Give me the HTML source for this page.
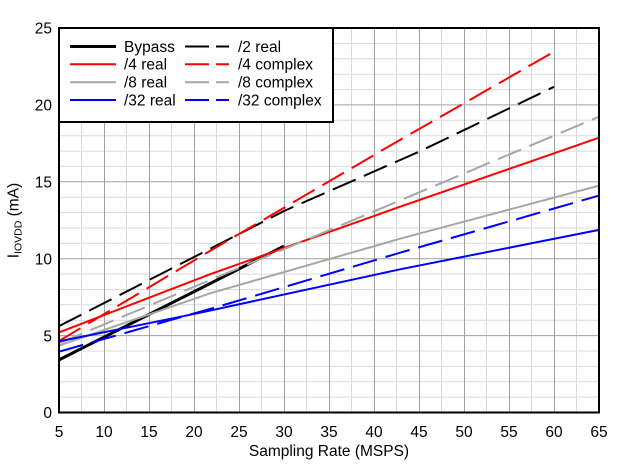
<!DOCTYPE html>
<html>
<head>
<meta charset="utf-8">
<style>
html,body{margin:0;padding:0;background:#fff;}
svg{display:block;}
text{font-family:"Liberation Sans",Arial,sans-serif;fill:#000;}
</style>
</head>
<body>
<svg width="626" height="469" viewBox="0 0 626 469" xmlns="http://www.w3.org/2000/svg">
<rect width="626" height="469" fill="#fff"/>
<!-- minor grid -->
<g stroke="#d9d9d9" stroke-width="1">
<line x1="81.5" y1="28" x2="81.5" y2="412"/>
<line x1="126.5" y1="28" x2="126.5" y2="412"/>
<line x1="171.5" y1="28" x2="171.5" y2="412"/>
<line x1="216.5" y1="28" x2="216.5" y2="412"/>
<line x1="261.5" y1="28" x2="261.5" y2="412"/>
<line x1="306.5" y1="28" x2="306.5" y2="412"/>
<line x1="351.5" y1="28" x2="351.5" y2="412"/>
<line x1="396.5" y1="28" x2="396.5" y2="412"/>
<line x1="441.5" y1="28" x2="441.5" y2="412"/>
<line x1="486.5" y1="28" x2="486.5" y2="412"/>
<line x1="531.5" y1="28" x2="531.5" y2="412"/>
<line x1="576.5" y1="28" x2="576.5" y2="412"/>
<line x1="59" y1="397.1" x2="599" y2="397.1"/>
<line x1="59" y1="381.7" x2="599" y2="381.7"/>
<line x1="59" y1="366.4" x2="599" y2="366.4"/>
<line x1="59" y1="351.0" x2="599" y2="351.0"/>
<line x1="59" y1="320.2" x2="599" y2="320.2"/>
<line x1="59" y1="304.8" x2="599" y2="304.8"/>
<line x1="59" y1="289.5" x2="599" y2="289.5"/>
<line x1="59" y1="274.1" x2="599" y2="274.1"/>
<line x1="59" y1="243.3" x2="599" y2="243.3"/>
<line x1="59" y1="228.0" x2="599" y2="228.0"/>
<line x1="59" y1="212.6" x2="599" y2="212.6"/>
<line x1="59" y1="197.2" x2="599" y2="197.2"/>
<line x1="59" y1="166.4" x2="599" y2="166.4"/>
<line x1="59" y1="151.1" x2="599" y2="151.1"/>
<line x1="59" y1="135.7" x2="599" y2="135.7"/>
<line x1="59" y1="120.3" x2="599" y2="120.3"/>
<line x1="59" y1="89.6" x2="599" y2="89.6"/>
<line x1="59" y1="74.2" x2="599" y2="74.2"/>
<line x1="59" y1="58.8" x2="599" y2="58.8"/>
<line x1="59" y1="43.4" x2="599" y2="43.4"/>
</g>
<!-- major grid -->
<g stroke="#a0a0a0" stroke-width="1">
<line x1="104.5" y1="28" x2="104.5" y2="412"/>
<line x1="149.5" y1="28" x2="149.5" y2="412"/>
<line x1="194.5" y1="28" x2="194.5" y2="412"/>
<line x1="239.5" y1="28" x2="239.5" y2="412"/>
<line x1="284.5" y1="28" x2="284.5" y2="412"/>
<line x1="329.5" y1="28" x2="329.5" y2="412"/>
<line x1="374.5" y1="28" x2="374.5" y2="412"/>
<line x1="419.5" y1="28" x2="419.5" y2="412"/>
<line x1="464.5" y1="28" x2="464.5" y2="412"/>
<line x1="509.5" y1="28" x2="509.5" y2="412"/>
<line x1="554.5" y1="28" x2="554.5" y2="412"/>
<line x1="59" y1="335.6" x2="599" y2="335.6"/>
<line x1="59" y1="258.7" x2="599" y2="258.7"/>
<line x1="59" y1="181.8" x2="599" y2="181.8"/>
<line x1="59" y1="104.9" x2="599" y2="104.9"/>
</g>
<!-- series -->
<g fill="none" stroke-linejoin="round">
<polyline stroke="#000" stroke-width="3" points="59,359.9 284,246.1"/>
<polyline stroke="#000" stroke-width="2" stroke-dasharray="25 9" points="59,326.1 284,211 419,151.7 554,86.8"/>
<polyline stroke="#ff0000" stroke-width="2" points="59,332.4 210.2,274.2 400.1,206.7 599,137.7"/>
<polyline stroke="#ff0000" stroke-width="2" stroke-dasharray="25 9" points="59,341 202.1,255.6 392.9,144 554,51.7"/>
<polyline stroke="#a6a6a6" stroke-width="2" points="59,345.6 210.2,293.3 400.1,238.7 599,185.6"/>
<polyline stroke="#a6a6a6" stroke-width="2" stroke-dasharray="25 9" points="59,343.3 320,234.1 599,116.7"/>
<polyline stroke="#0000ff" stroke-width="2" points="59,341.4 200.3,312.7 400.1,269.3 599,229.9"/>
<polyline stroke="#0000ff" stroke-width="2" stroke-dasharray="25 9" points="59,351.7 223.7,305 400.1,252.7 599,195.6"/>
</g>
<!-- plot border -->
<rect x="59" y="28" width="540" height="384.5" fill="none" stroke="#000" stroke-width="2"/>
<!-- legend -->
<rect x="59" y="28" width="274" height="94" fill="#fff" stroke="#000" stroke-width="2"/>
<g fill="none">
<line x1="70" y1="46.5" x2="116" y2="46.5" stroke="#000" stroke-width="3"/>
<line x1="70" y1="64.3" x2="116" y2="64.3" stroke="#ff0000" stroke-width="2"/>
<line x1="70" y1="82.2" x2="116" y2="82.2" stroke="#a6a6a6" stroke-width="2"/>
<line x1="70" y1="100" x2="116" y2="100" stroke="#0000ff" stroke-width="2"/>
<line x1="185" y1="46.5" x2="229" y2="46.5" stroke="#000" stroke-width="2" stroke-dasharray="24 7"/>
<line x1="185" y1="64.3" x2="229" y2="64.3" stroke="#ff0000" stroke-width="2" stroke-dasharray="24 7"/>
<line x1="185" y1="82.2" x2="229" y2="82.2" stroke="#a6a6a6" stroke-width="2" stroke-dasharray="24 7"/>
<line x1="185" y1="100" x2="229" y2="100" stroke="#0000ff" stroke-width="2" stroke-dasharray="24 7"/>
</g>
<g font-size="15.5">
<text x="124" y="51.8">Bypass</text>
<text x="124" y="69.6">/4 real</text>
<text x="124" y="87.5">/8 real</text>
<text x="124" y="105.3">/32 real</text>
<text x="238" y="51.8">/2 real</text>
<text x="238" y="69.6">/4 complex</text>
<text x="238" y="87.5">/8 complex</text>
<text x="238" y="105.3">/32 complex</text>
</g>
<!-- y tick labels -->
<g font-size="15.5" text-anchor="end">
<text x="52" y="418.2">0</text>
<text x="52" y="341.3">5</text>
<text x="52" y="264.4">10</text>
<text x="52" y="187.5">15</text>
<text x="52" y="110.6">20</text>
<text x="52" y="33.7">25</text>
</g>
<!-- x tick labels -->
<g font-size="15.5" text-anchor="middle">
<text x="59" y="437">5</text>
<text x="104" y="437">10</text>
<text x="149" y="437">15</text>
<text x="194" y="437">20</text>
<text x="239" y="437">25</text>
<text x="284" y="437">30</text>
<text x="329" y="437">35</text>
<text x="374" y="437">40</text>
<text x="419" y="437">45</text>
<text x="464" y="437">50</text>
<text x="509" y="437">55</text>
<text x="554" y="437">60</text>
<text x="599" y="437">65</text>
</g>
<text x="329" y="456" font-size="15.5" text-anchor="middle">Sampling Rate (MSPS)</text>
<text transform="translate(18.5,220.5) rotate(-90)" font-size="15.5" text-anchor="middle">I<tspan font-size="10.5" dy="3">IOVDD</tspan><tspan dy="-3"> (mA)</tspan></text>
</svg>
</body>
</html>
